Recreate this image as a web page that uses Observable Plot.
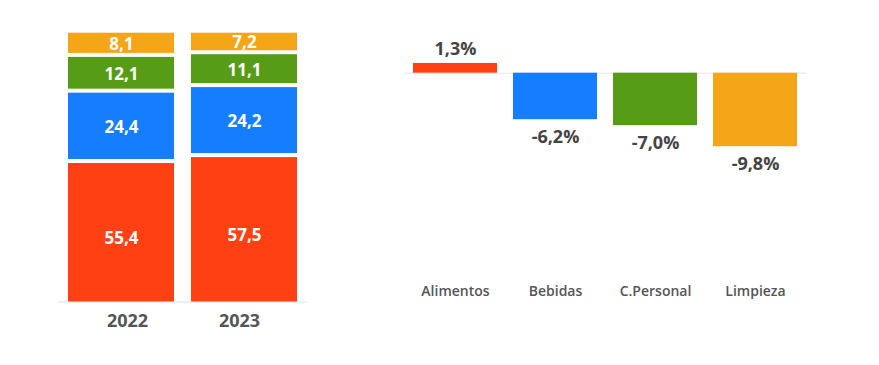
<!DOCTYPE html>
<html>
<head>
<meta charset="utf-8">
<script src="https://cdn.jsdelivr.net/npm/d3@7"></script>
<script src="https://cdn.jsdelivr.net/npm/@observablehq/plot@0.6"></script>
<style>
  html, body { margin: 0; padding: 0; background: #fff; }
  #wrap { display: flex; width: 879px; height: 365px; font-family: "Open Sans", sans-serif; }
  #wrap svg { overflow: visible; }
</style>
</head>
<body>
<div id="wrap"><div id="left"></div><div id="right"></div></div>
<script>
const years = ["2022", "2023"];
const categories = ["Alimentos", "Bebidas", "C.Personal", "Limpieza"];
const share2022 = [55.4, 24.4, 12.1, 8.1];
const share2023 = [57.5, 24.2, 11.1, 7.2];
const change = [1.3, -6.2, -7.0, -9.8];
const colors = ["#ff4013", "#157eff", "#579c16", "#f5a518"];

const fmt = v => v.toFixed(1).replace(".", ",");

const shares = [];
[share2022, share2023].forEach((arr, i) => {
  arr.forEach((v, j) => shares.push({year: years[i], cat: categories[j], value: v}));
});
const changes = categories.map((c, i) => ({cat: c, value: change[i]}));

const yearAxis = {tickSize: 0, tickPadding: 10, fontSize: 18, fontWeight: 700, fill: "#555", label: null};

const left = Plot.plot({
  width: 370, height: 365,
  marginLeft: 58, marginRight: 63, marginTop: 30.7, marginBottom: 61.5,
  style: {fontFamily: "Open Sans", background: "white"},
  x: {domain: years, paddingInner: 0.137, paddingOuter: 0.0726, label: null},
  y: {type: "pow", exponent: 1.1, domain: [0, 100], axis: null},
  color: {domain: categories, range: colors},
  marks: [
    Plot.ruleY([0], {stroke: "#ebebeb", strokeWidth: 1.5, dy: -2}),
    Plot.barY(shares, {x: "year", y: "value", fill: "cat", insetTop: 2, insetBottom: 2}),
    Plot.text(shares, Plot.stackY({x: "year", y: "value", z: "cat", text: d => fmt(d.value),
      fill: "white", fontSize: 17, fontWeight: 700, dy: 1})),
    Plot.axisX({...yearAxis, ticks: [years[0]], dx: 6}),
    Plot.axisX({...yearAxis, ticks: [years[1]], dx: -5})
  ]
});
document.getElementById("left").appendChild(left);

const right = Plot.plot({
  width: 509, height: 365,
  marginLeft: 34, marginRight: 72.3, marginTop: 57.7, marginBottom: 97.3,
  style: {fontFamily: "Open Sans", background: "white"},
  x: {domain: categories, paddingInner: 0.163, paddingOuter: 0.0815, label: null},
  y: {domain: [-26, 2], axis: null},
  color: {domain: categories, range: colors},
  marks: [
    Plot.ruleY([0], {stroke: "#e6e6e6", strokeWidth: 1}),
    Plot.barY(changes, {x: "cat", y: "value", fill: "cat"}),
    Plot.text(changes.filter(d => d.value >= 0), {x: "cat", y: "value", text: d => fmt(d.value) + "%",
      dy: -14, fill: "#444", fontSize: 18, fontWeight: 700}),
    Plot.text(changes.filter(d => d.value < 0), {x: "cat", y: "value", text: d => fmt(d.value) + "%",
      dy: 18, fill: "#444", fontSize: 18, fontWeight: 700}),
    Plot.axisX({tickSize: 0, tickPadding: 18, fontSize: 14, fontWeight: 600, fill: "#555", label: null})
  ]
});
document.getElementById("right").appendChild(right);
</script>
</body>
</html>
